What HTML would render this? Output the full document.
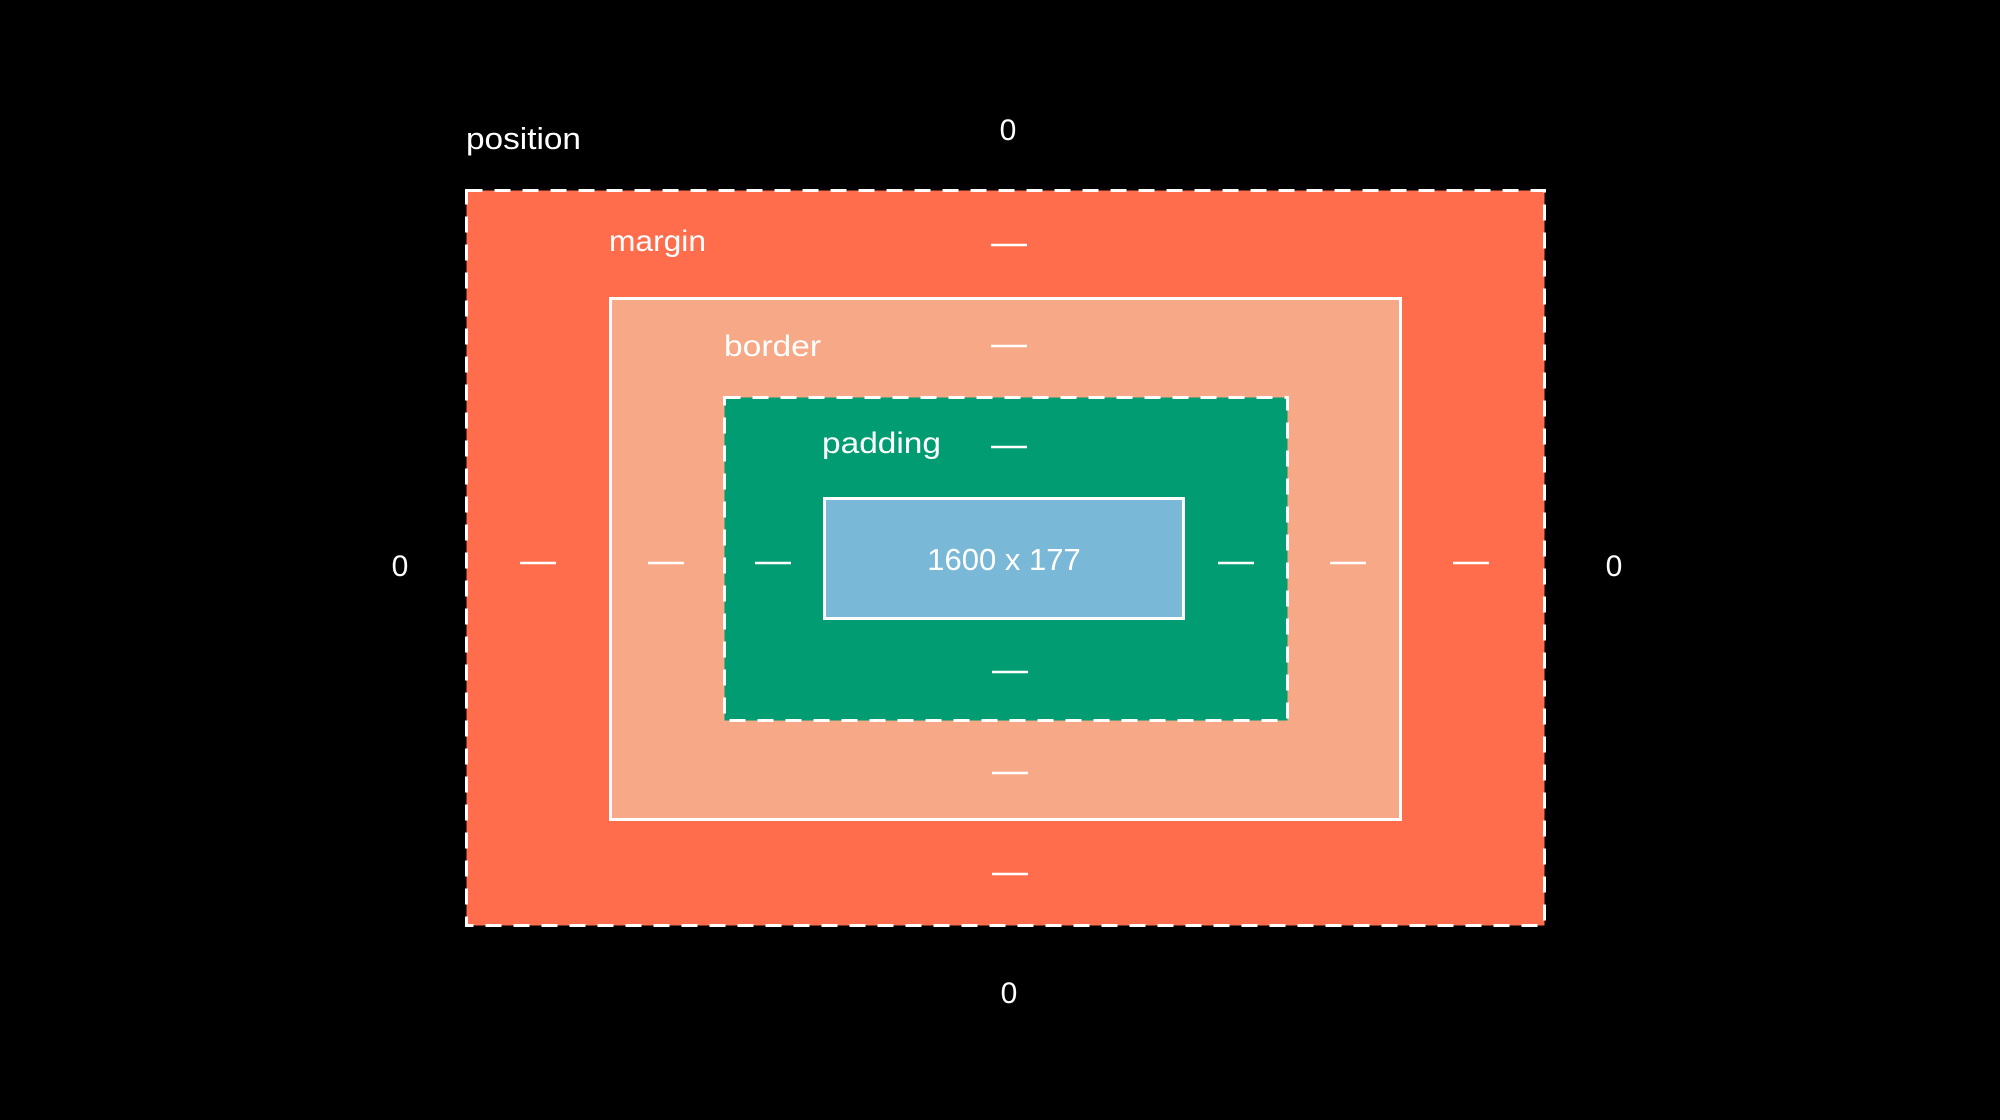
<!DOCTYPE html>
<html><head><meta charset="utf-8"><style>
html,body{margin:0;padding:0;background:#000;width:2000px;height:1120px;overflow:hidden}
svg{display:block}
text{font-family:"Liberation Sans",sans-serif;fill:#fff}
</style></head><body>
<svg width="2000" height="1120" viewBox="0 0 2000 1120">
<rect x="0" y="0" width="2000" height="1120" fill="#000"/>
<text x="466" y="149" font-size="31" textLength="115" lengthAdjust="spacingAndGlyphs">position</text>
<text x="1008" y="140" font-size="30" text-anchor="middle">0</text>
<text x="1009" y="1003" font-size="30" text-anchor="middle">0</text>
<text x="400" y="576" font-size="30" text-anchor="middle">0</text>
<text x="1614" y="576" font-size="30" text-anchor="middle">0</text>

<rect x="466.5" y="190.5" width="1078" height="735" fill="#ff6d4c" stroke="#fff" stroke-width="3" stroke-dasharray="16 12"/>
<text x="609" y="251" font-size="30" textLength="97" lengthAdjust="spacingAndGlyphs">margin</text>

<rect x="610.5" y="298.5" width="790" height="521" fill="#f7a886" stroke="#fff" stroke-width="3"/>
<text x="724" y="356" font-size="30" textLength="97" lengthAdjust="spacingAndGlyphs">border</text>

<rect x="724.5" y="397.5" width="563" height="323" fill="#029c72" stroke="#fff" stroke-width="3" stroke-dasharray="16 12"/>
<text x="822" y="453" font-size="30" textLength="119" lengthAdjust="spacingAndGlyphs">padding</text>

<rect x="824.5" y="498.5" width="359" height="120" fill="#7ab8d8" stroke="#fff" stroke-width="3"/>
<text x="1004" y="570" font-size="31" text-anchor="middle">1600 x 177</text>

<g stroke="#fff" stroke-width="2.5">
<line x1="991" x2="1027" y1="245" y2="245"/>
<line x1="991" x2="1027" y1="346" y2="346"/>
<line x1="991" x2="1027" y1="447" y2="447"/>
<line x1="992" x2="1028" y1="672" y2="672"/>
<line x1="992" x2="1028" y1="773" y2="773"/>
<line x1="992" x2="1028" y1="874" y2="874"/>
<line x1="520" x2="556" y1="563" y2="563"/>
<line x1="648" x2="684" y1="563" y2="563"/>
<line x1="755" x2="791" y1="563" y2="563"/>
<line x1="1218" x2="1254" y1="563" y2="563"/>
<line x1="1330" x2="1366" y1="563" y2="563"/>
<line x1="1453" x2="1489" y1="563" y2="563"/>
</g>
</svg>
</body></html>
